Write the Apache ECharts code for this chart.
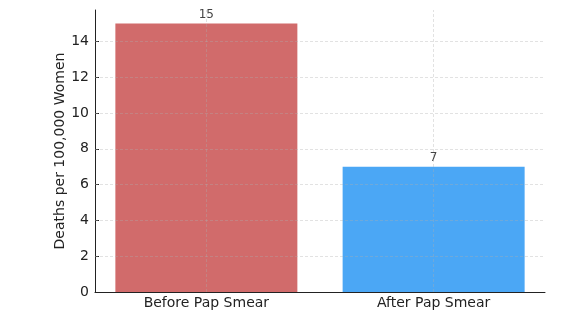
<!DOCTYPE html>
<html>
<head>
<meta charset="utf-8">
<script src="https://cdn.jsdelivr.net/npm/echarts@6/dist/echarts.min.js"></script>
<style>
  html, body { margin: 0; padding: 0; background: #fff; }
  #chart { width: 588px; height: 323px; }
</style>
</head>
<body>
<div id="chart"></div>
<script>
// Cervical cancer deaths before and after Pap smear screening
const categories = ['Before Pap Smear', 'After Pap Smear'];
const deaths = [15, 7];
const barColors = ['#d16b6b', '#4ba7f5'];
const yTicks = [0, 2, 4, 6, 8, 10, 12, 14];

const positions = categories.map((_, i) => i);
const gridStyle = { color: 'rgba(175,175,175,0.45)', type: [3, 2], width: 0.8 };

const chart = echarts.init(document.getElementById('chart'), null, { renderer: 'canvas' });
chart.setOption({
  animation: false,
  textStyle: { fontFamily: 'DejaVu Sans' },
  grid: { left: 95, right: 43, top: 10, bottom: 31, containLabel: false },
  xAxis: {
    type: 'value',
    min: -0.49,
    max: 1.49,
    axisLine: { show: true, onZero: false, lineStyle: { color: '#222', width: 1 } },
    axisTick: { show: true, inside: true, length: 4, customValues: positions, lineStyle: { color: '#222', width: 1 } },
    axisLabel: {
      customValues: positions,
      formatter: v => categories[Math.round(v)],
      color: '#222', fontSize: 14, margin: 4
    },
    splitLine: { show: false }
  },
  yAxis: {
    type: 'value',
    min: 0,
    max: 15.75,
    name: 'Deaths per 100,000 Women',
    nameLocation: 'middle',
    nameGap: 28,
    nameMoveOverlap: false,
    nameTextStyle: { color: '#222', fontSize: 14 },
    axisLine: { show: true, onZero: false, lineStyle: { color: '#222', width: 1 } },
    axisTick: { show: true, inside: true, length: 4, customValues: yTicks, lineStyle: { color: '#222', width: 1 } },
    axisLabel: { customValues: yTicks, color: '#222', fontSize: 14, margin: 6 },
    splitLine: { show: false }
  },
  series: [{
    type: 'bar',
    barWidth: 182,
    data: deaths.map((v, i) => ({ value: [i, v], itemStyle: { color: barColors[i] } })),
    label: {
      show: true, position: 'top', distance: 3,
      color: '#444', fontSize: 12,
      formatter: p => p.value[1]
    },
    markLine: {
      silent: true,
      symbol: 'none',
      label: { show: false },
      lineStyle: gridStyle,
      data: yTicks.filter(v => v > 0).map(v => ({ yAxis: v }))
        .concat(positions.map(p => ({ xAxis: p })))
    }
  }]
});
</script>
</body>
</html>
